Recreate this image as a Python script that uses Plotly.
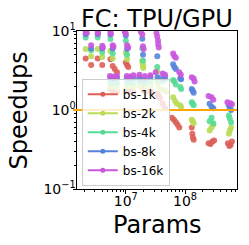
import plotly.graph_objects as go

series_names = ["bs-1k", "bs-2k", "bs-4k", "bs-8k", "bs-16k"]
colors = ["#db5f57", "#b9db57", "#57db94", "#5784db", "#c957db"]

# bs-1k
x_bs1k = [2.1e6, 2.6e6, 3.35e6, 4.0e6, 5.5e6, 6.0e6, 6.5e6, 7.1e6, 1.0e7, 1.05e7, 1.1e7,
          5.5e6, 6.0e6, 6.3e6, 7.1e6, 1.04e7, 1.1e7, 1.2e7, 1.35e7, 1.7e7, 1.8e7, 1.9e7,
          2.0e7, 2.1e7, 2.6e7, 2.7e7, 3.4e7, 3.6e7, 3.8e7, 4.2e7, 4.6e7, 6.0e7, 6.5e7,
          7.0e7, 7.5e7, 8.0e7, 1.3e8, 1.33e8, 1.36e8, 1.4e8, 2.5e8, 2.7e8, 2.9e8, 3.1e8,
          5.3e8, 5.6e8, 5.9e8, 6.2e8]
y_bs1k = [4.5, 3.7, 4.5, 3.7, 4.4, 3.6, 3.3, 3.0, 4.0, 3.7, 3.5,
          1.85, 1.75, 1.8, 1.7, 1.8, 1.7, 1.75, 1.7, 2.6, 2.3, 2.0,
          1.75, 1.7, 1.75, 1.65, 1.6, 1.5, 1.4, 1.2, 1.05, 0.8, 0.75,
          0.7, 0.65, 0.6, 0.6, 0.5, 0.45, 0.42, 0.38, 0.37, 0.4, 0.41,
          0.38, 0.35, 0.36, 0.4]

# bs-2k
x_bs2k = [2.1e6, 3.35e6, 5.5e6, 1.0e7, 2.6e6, 4.0e6, 6.0e6, 1.05e7, 1.9e7, 1.92e7, 1.95e7,
          1.97e7, 3.4e7, 5.5e6, 6.3e6, 7.1e6, 1.04e7, 1.2e7, 1.35e7, 1.7e7, 2.1e7, 2.6e7,
          3.4e7, 3.6e7, 4.2e7, 4.6e7, 4.8e7, 6.3e7, 6.8e7, 7.3e7, 8.3e7, 8.6e7, 1.3e8,
          1.35e8, 1.4e8, 2.6e8, 2.8e8, 3.0e8, 5.5e8, 5.7e8, 6.0e8]
y_bs2k = [5.9, 5.9, 5.6, 5.3, 4.8, 4.7, 4.5, 4.4, 4.2, 3.9, 3.6,
          3.4, 3.1, 1.95, 2.0, 1.9, 1.95, 2.0, 1.95, 2.0, 1.95, 2.0,
          2.2, 1.9, 1.8, 1.75, 1.7, 1.45, 1.3, 1.2, 1.15, 1.08, 0.75,
          0.72, 0.68, 0.55, 0.6, 0.65, 0.5, 0.55, 0.6]

# bs-4k
x_bs4k = [2.1e6, 3.35e6, 5.5e6, 1.0e7, 1.9e7, 2.6e6, 4.0e6, 6.0e6, 1.05e7, 1.95e7,
          5.5e6, 6.3e6, 7.1e6, 1.04e7, 1.2e7, 1.35e7, 1.7e7, 2.1e7, 2.6e7, 3.4e7, 3.5e7,
          4.2e7, 4.6e7, 6.3e7, 6.6e7, 7.0e7, 8.3e7, 8.6e7, 1.3e8, 1.35e8, 1.4e8, 2.6e8,
          2.8e8, 3.0e8, 5.5e8, 5.7e8, 6.0e8]
y_bs4k = [8.3, 8.3, 7.9, 7.5, 6.0, 5.7, 5.4, 5.2, 5.0, 4.2,
          2.2, 2.25, 2.2, 2.2, 2.25, 2.2, 2.3, 2.2, 2.3, 3.5, 2.4,
          2.3, 2.4, 2.4, 2.3, 2.1, 1.95, 1.85, 1.25, 1.2, 1.15, 0.72,
          0.8, 0.68, 0.85, 0.78, 0.7]

# bs-8k
x_bs8k = [2.1e6, 3.35e6, 5.5e6, 1.0e7, 1.9e7, 2.6e6, 4.0e6, 6.0e6, 1.05e7, 1.95e7,
          5.5e6, 6.3e6, 7.1e6, 1.04e7, 1.2e7, 1.35e7, 1.7e7, 2.1e7, 2.6e7, 3.4e7, 3.45e7,
          4.2e7, 4.6e7, 6.3e7, 6.6e7, 7.0e7, 8.3e7, 8.6e7, 1.3e8, 1.35e8, 1.4e8, 2.6e8,
          2.8e8, 3.0e8, 5.5e8, 5.7e8, 6.0e8]
y_bs8k = [9.1, 9.1, 9.0, 8.8, 8.0, 6.0, 6.0, 6.0, 5.9, 5.0,
          2.5, 2.5, 2.55, 2.5, 2.5, 2.55, 2.5, 2.45, 2.6, 4.8, 2.6,
          2.5, 2.6, 3.8, 3.5, 3.3, 2.5, 2.45, 1.85, 1.75, 1.65, 1.2,
          1.1, 1.05, 1.15, 1.05, 1.0]

# bs-16k
x_bs16k = [2.1e6, 2.2e6, 2.6e6, 3.35e6, 3.4e6, 4.0e6, 4.1e6, 5.5e6, 5.6e6, 6.0e6, 6.2e6,
           5.4e6, 6.3e6, 7.1e6, 9.6e6, 1.0e7, 1.05e7, 1.1e7, 1.04e7, 1.2e7, 1.35e7, 1.8e7,
           1.9e7, 1.95e7, 2.0e7, 1.7e7, 2.1e7, 2.6e7, 3.3e7, 3.4e7, 3.5e7, 3.52e7, 3.6e7,
           3.2e7, 4.2e7, 4.6e7, 6.3e7, 6.6e7, 7.0e7, 8.0e7, 8.5e7, 1.3e8, 1.4e8, 1.45e8,
           2.5e8, 2.8e8, 3.0e8, 5.2e8, 5.8e8, 6.2e8]
y_bs16k = [9.7, 9.4, 6.6, 9.7, 9.3, 6.5, 6.2, 9.7, 9.2, 6.6, 6.3,
           2.7, 2.65, 2.7, 9.8, 9.3, 6.6, 6.2, 2.7, 2.65, 2.75, 9.8,
           9.0, 6.4, 5.9, 2.8, 2.7, 2.75, 9.4, 8.5, 7.6, 6.8, 6.2,
           3.0, 2.9, 2.8, 5.2, 4.8, 4.6, 3.0, 2.8, 2.6, 2.5, 2.3,
           1.5, 1.45, 1.35, 1.25, 1.22, 1.18]

xs = [x_bs1k, x_bs2k, x_bs4k, x_bs8k, x_bs16k]
ys = [y_bs1k, y_bs2k, y_bs4k, y_bs8k, y_bs16k]

title_text = "FC: TPU/GPU"
x_title = "Params"
y_title = "Speedups"
baseline = 1.0

font = "DejaVu Sans"
fig = go.Figure()
for name, c, x, y in zip(series_names, colors, xs, ys):
    fig.add_trace(go.Scatter(x=x, y=y, mode="markers", showlegend=False, name=name,
                             marker=dict(color=c, size=6, opacity=0.9, line=dict(width=0))))
for name, c in zip(series_names, colors):
    fig.add_trace(go.Scatter(x=[None], y=[None], mode="lines+markers", name=name,
                             line=dict(color=c, width=2), marker=dict(color=c, size=5)))

fig.add_shape(type="line", xref="paper", yref="y", x0=-0.025, x1=1, y0=baseline, y1=baseline,
              line=dict(color="#ffa500", width=2), layer="above")

fig.add_annotation(text=title_text, xref="paper", yref="paper", x=0.5, y=1.078,
                   xanchor="center", yanchor="middle", showarrow=False,
                   font=dict(size=24, family=font, color="black"))
fig.add_annotation(text=x_title, xref="paper", yref="paper", x=0.5, y=-0.228,
                   xanchor="center", yanchor="middle", showarrow=False,
                   font=dict(size=24, family=font, color="black"))
fig.add_annotation(text=y_title, xref="paper", yref="paper", x=-0.36, y=0.5,
                   xanchor="center", yanchor="middle", showarrow=False, textangle=-90,
                   font=dict(size=24, family=font, color="black"))

def minor_vals(lo, hi):
    out = []
    for d in range(lo, hi):
        for k in range(2, 10):
            out.append(k * 10 ** d)
    return out

fig.update_layout(
    width=249, height=245,
    margin=dict(l=77, r=12, t=31, b=56),
    paper_bgcolor="white", plot_bgcolor="white",
    font=dict(family=font, color="black", size=14),
    legend=dict(x=0.03, y=0.02, xanchor="left", yanchor="bottom",
                bgcolor="rgba(255,255,255,0.8)", bordercolor="#cccccc", borderwidth=1,
                font=dict(size=12, family=font, color="black"), itemwidth=30,
                tracegroupgap=0),
)
fig.update_xaxes(type="log", range=[6.176, 8.878], showgrid=False, zeroline=False,
                 showline=True, mirror=True, linecolor="black", linewidth=1,
                 ticks="outside", ticklen=3.5, tickcolor="black",
                 tickvals=[1e7, 1e8], ticktext=["10<sup>7</sup>", "10<sup>8</sup>"],
                 tickfont=dict(size=14), ticklabelstandoff=-4,
                 minor=dict(tickvals=minor_vals(6, 9), ticks="outside", ticklen=2, tickcolor="black"))
fig.update_yaxes(type="log", range=[-1, 1], showgrid=False, zeroline=False,
                 showline=True, mirror=True, linecolor="black", linewidth=1,
                 ticks="outside", ticklen=3.5, tickcolor="black",
                 tickvals=[0.1, 1, 10], ticktext=["10<sup>−1</sup>", "10<sup>0</sup>", "10<sup>1</sup>"],
                 tickfont=dict(size=14), ticklabelstandoff=-6,
                 minor=dict(tickvals=minor_vals(-1, 1), ticks="outside", ticklen=2, tickcolor="black"))
fig.write_html("out.html", config={"displayModeBar": False},
               post_script="document.body.style.margin='0';document.body.style.overflow='hidden';")
